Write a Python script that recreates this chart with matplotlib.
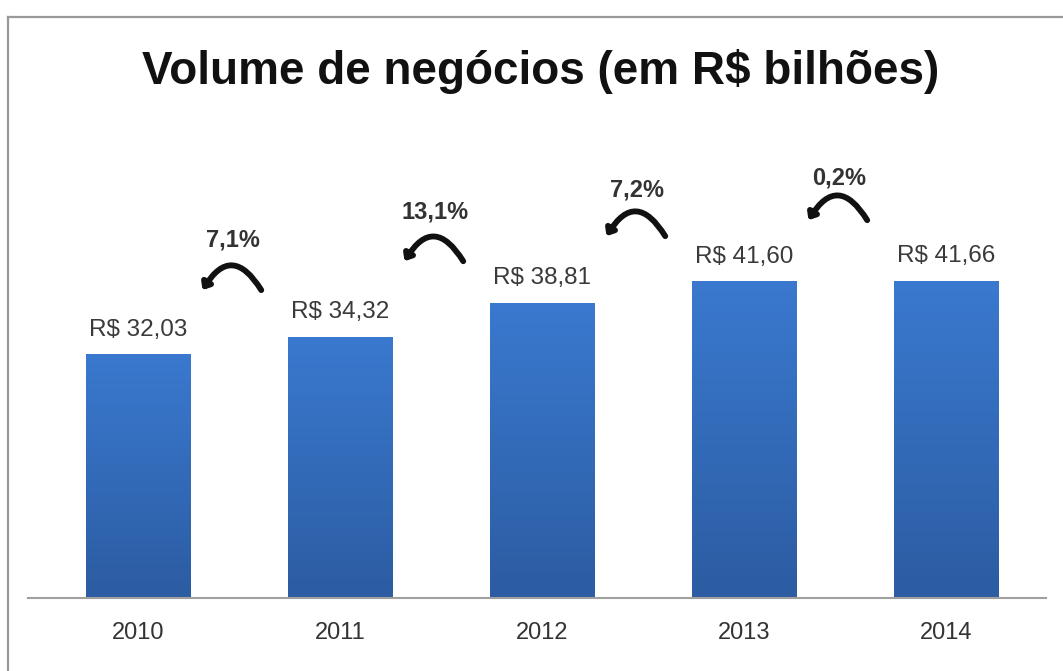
import matplotlib.pyplot as plt
import numpy as np
from matplotlib.colors import LinearSegmentedColormap
from matplotlib.patches import FancyArrowPatch
from matplotlib.lines import Line2D

anos = ['2010', '2011', '2012', '2013', '2014']
volume = [32.03, 34.32, 38.81, 41.60, 41.66]
rotulos = ['R$ 32,03', 'R$ 34,32', 'R$ 38,81', 'R$ 41,60', 'R$ 41,66']
crescimento = ['7,1%', '13,1%', '7,2%', '0,2%']

plt.rcParams['font.family'] = ['Liberation Sans', 'DejaVu Sans']

fig = plt.figure(figsize=(10.63, 6.71), dpi=100)
W, H = 1063, 671
ax = fig.add_axes([28 / W, 1 - 598 / H, 1018 / W, 448 / H])

x = np.arange(len(anos))
largura = 0.515
barras = ax.bar(x, volume, width=largura, color='none', zorder=2)

# degrade vertical nas barras (mais claro em cima)
degrade = LinearSegmentedColormap.from_list('azul', ['#2c5ca2', '#3a79cf'])
grad = np.linspace(0, 1, 256).reshape(-1, 1)
for b in barras:
    x0, y0 = b.get_x(), b.get_y()
    ax.imshow(grad, cmap=degrade, origin='lower', aspect='auto', zorder=2,
              extent=(x0, x0 + b.get_width(), y0, y0 + b.get_height()))

for xi, v, r in zip(x, volume, rotulos):
    ax.annotate(r, (xi, v), xytext=(0, 18), textcoords='offset points',
                ha='center', va='center', fontsize=17.5, color='#3a3a3a')

# setas curvas com a variacao anual
y_seta = [40.2, 44.0, 47.3, 49.4]
y_txt = [47.1, 50.8, 53.7, 55.3]
for i, (c, ys, yt) in enumerate(zip(crescimento, y_seta, y_txt)):
    seta = FancyArrowPatch((i + 0.615, ys), (i + 0.31, ys),
                           connectionstyle='arc3,rad=0.85',
                           arrowstyle='-|>,head_length=0.3,head_width=0.25',
                           color='#111111', lw=4.2, mutation_scale=12,
                           capstyle='round', zorder=3)
    ax.add_patch(seta)
    ax.text(i + 0.47, yt, c, ha='center', va='center', fontsize=17,
            fontweight='bold', color='#333333')

ax.set_xlim(-0.547, 4.493)
ax.set_ylim(0, 58.95)
ax.set_xticks(x)
ax.set_xticklabels(anos, fontsize=17, color='#333333')
ax.tick_params(axis='x', length=0, pad=17)
ax.set_yticks([])
for s in ['top', 'right', 'left']:
    ax.spines[s].set_visible(False)
ax.spines['bottom'].set_color('#a0a0a0')
ax.spines['bottom'].set_linewidth(1.5)

fig.text(541 / W, 1 - 72 / H, 'Volume de negócios (em R$ bilhões)',
         ha='center', va='center', fontsize=33, fontweight='bold', color='#111111')

# moldura cinza
fig.add_artist(Line2D([8 / W, 1], [1 - 17 / H, 1 - 17 / H], color='#999999', lw=1.6))
fig.add_artist(Line2D([8 / W, 8 / W], [0, 1 - 17 / H], color='#999999', lw=1.6))

fig.savefig('out.png', dpi=100)
